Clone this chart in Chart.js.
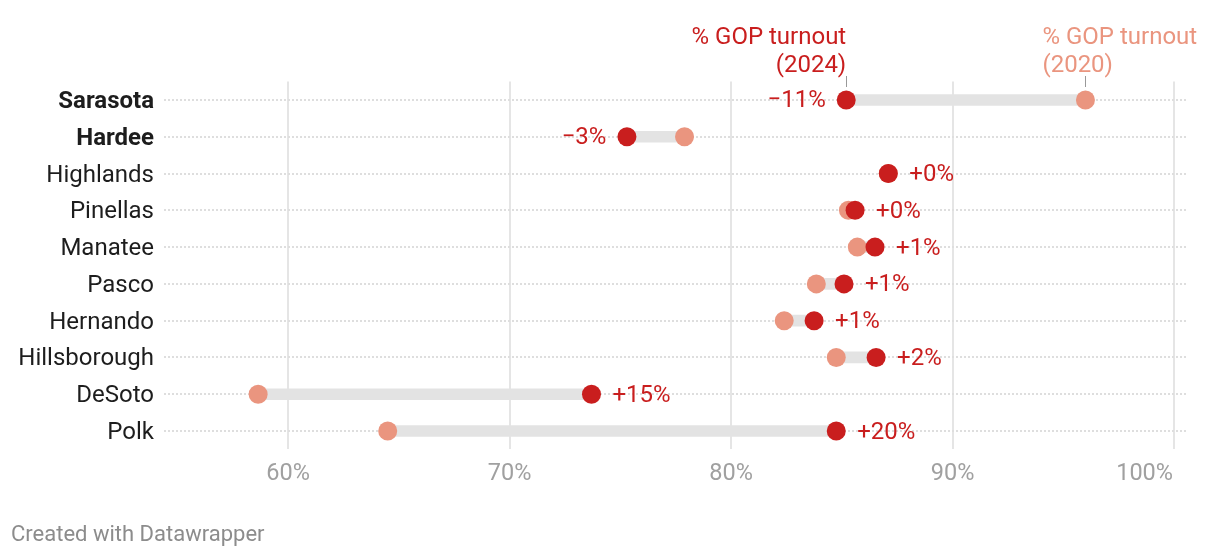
<!DOCTYPE html>
<html>
<head>
<meta charset="utf-8">
<script src="https://cdn.jsdelivr.net/npm/chart.js@4.4.1/dist/chart.umd.min.js"></script>
<style>
  html, body { margin: 0; padding: 0; background: #ffffff; }
  #wrap { position: relative; width: 1220px; height: 558px; overflow: hidden; }
  #c { position: absolute; left: 0; top: 0; }
  #footer {
    position: absolute; left: 11px; top: 521px;
    font-family: Roboto, sans-serif; font-size: 22px; line-height: 26px;
    color: #8c8c8c; white-space: nowrap;
  }
</style>
</head>
<body>
<div id="wrap">
  <canvas id="c" width="1220" height="558"></canvas>
  <div id="footer">Created with Datawrapper</div>
</div>
<script>
// ---------- DATA ----------
const counties = ['Sarasota', 'Hardee', 'Highlands', 'Pinellas', 'Manatee', 'Pasco', 'Hernando', 'Hillsborough', 'DeSoto', 'Polk'];
const boldCounties = ['Sarasota', 'Hardee'];
const turnout2024 = [85.2, 75.3, 87.1, 85.6, 86.5, 85.1, 83.75, 86.55, 73.7, 84.75];
const turnout2020 = [96.0, 77.9, 87.1, 85.3, 85.7, 83.85, 82.4, 84.75, 58.65, 64.5];
const changeLabels = ['\u221211%', '\u22123%', '+0%', '+0%', '+1%', '+1%', '+1%', '+2%', '+15%', '+20%'];
const xTickValues = [60, 70, 80, 90, 100];
const xTickLabels = ['60%', '70%', '80%', '90%', '100%'];
const header2024 = ['% GOP turnout', '(2024)'];
const header2020 = ['% GOP turnout', '(2020)'];

// ---------- STYLE ----------
const RED = '#c91e1e';
const SALMON = '#ea957f';
const FONT = 'Roboto';

Chart.defaults.font.family = FONT;

const labelsPlugin = {
  id: 'customLabels',
  afterDraw(chart) {
    const ctx = chart.ctx;
    const xs = chart.scales.x;
    const ys = chart.scales.y;
    ctx.save();

    // x tick labels
    ctx.font = '23.5px ' + FONT;
    ctx.fillStyle = '#a0a0a0';
    ctx.textBaseline = 'alphabetic';
    xTickValues.forEach((v, i) => {
      const px = xs.getPixelForValue(v);
      const last = i === xTickValues.length - 1;
      ctx.textAlign = last ? 'right' : 'center';
      ctx.fillText(xTickLabels[i], last ? px - 1 : px, 480);
    });

    // change labels
    ctx.font = '24px ' + FONT;
    ctx.fillStyle = RED;
    ctx.textBaseline = 'middle';
    counties.forEach((c, i) => {
      const py = ys.getPixelForValue(i);
      const a = xs.getPixelForValue(turnout2024[i]);
      const b = xs.getPixelForValue(turnout2020[i]);
      const neg = changeLabels[i].charAt(0) === '\u2212';
      if (neg) {
        ctx.textAlign = 'right';
        ctx.fillText(changeLabels[i], Math.min(a, b) - 20.5, py + 1.5);
      } else {
        ctx.textAlign = 'left';
        ctx.fillText(changeLabels[i], Math.max(a, b) + 21, py + 1.5);
      }
    });

    // header labels for first row
    const x24 = xs.getPixelForValue(turnout2024[0]);
    const x20 = xs.getPixelForValue(turnout2020[0]);
    ctx.font = '24px ' + FONT;
    ctx.textBaseline = 'alphabetic';
    ctx.fillStyle = RED;
    ctx.textAlign = 'right';
    ctx.fillText(header2024[0], x24, 43.5);
    ctx.fillText(header2024[1], x24, 72.3);
    ctx.fillStyle = SALMON;
    ctx.textAlign = 'left';
    ctx.fillText(header2020[0], x20 - 43, 43.5);
    ctx.fillText(header2020[1], x20 - 43, 72.3);

    ctx.strokeStyle = '#999999';
    ctx.lineWidth = 1;
    [x24, x20].forEach(px => {
      const sx = Math.round(px) + 0.5;
      ctx.beginPath();
      ctx.moveTo(sx, 76);
      ctx.lineTo(sx, 87);
      ctx.stroke();
    });

    ctx.restore();
  }
};

new Chart(document.getElementById('c'), {
  type: 'bar',
  data: {
    labels: counties,
    datasets: [
      {
        type: 'line',
        label: '2024',
        indexAxis: 'y',
        data: turnout2024,
        showLine: false,
        pointRadius: 9.5,
        pointHoverRadius: 9.5,
        pointBorderWidth: 0,
        pointBackgroundColor: RED,
        borderColor: RED,
        order: 0
      },
      {
        type: 'line',
        label: '2020',
        indexAxis: 'y',
        data: turnout2020,
        showLine: false,
        pointRadius: 9.5,
        pointHoverRadius: 9.5,
        pointBorderWidth: 0,
        pointBackgroundColor: SALMON,
        borderColor: SALMON,
        order: 1
      },
      {
        type: 'bar',
        label: 'range',
        data: counties.map((c, i) => [turnout2020[i], turnout2024[i]]),
        backgroundColor: '#e3e3e3',
        borderWidth: 0,
        borderSkipped: false,
        barThickness: 11,
        order: 2
      }
    ]
  },
  options: {
    indexAxis: 'y',
    responsive: false,
    devicePixelRatio: 1,
    animation: false,
    events: [],
    layout: { padding: { left: 0, right: 34, top: 81.6, bottom: 108.6 } },
    plugins: { legend: { display: false }, tooltip: { enabled: false } },
    scales: {
      x: {
        type: 'linear',
        min: 54.4,
        max: 100.54,
        afterBuildTicks: s => { s.ticks = xTickValues.map(v => ({ value: v })); },
        ticks: { display: false },
        grid: { color: '#e5e5e5', lineWidth: 2, drawTicks: false },
        border: { display: false }
      },
      y: {
        type: 'category',
        labels: counties,
        offset: true,
        afterFit: s => { s.width = 164; },
        grid: { offset: false, color: '#dedede', lineWidth: 2, drawTicks: false },
        border: { display: false, dash: [2, 2] },
        ticks: {
          padding: 10,
          labelOffset: 2,
          color: '#1d1d1d',
          font: (c) => ({
            family: FONT,
            size: 24,
            weight: boldCounties.includes(counties[c.index]) ? 'bold' : 'normal'
          })
        }
      }
    }
  },
  plugins: [labelsPlugin]
});
</script>
</body>
</html>
